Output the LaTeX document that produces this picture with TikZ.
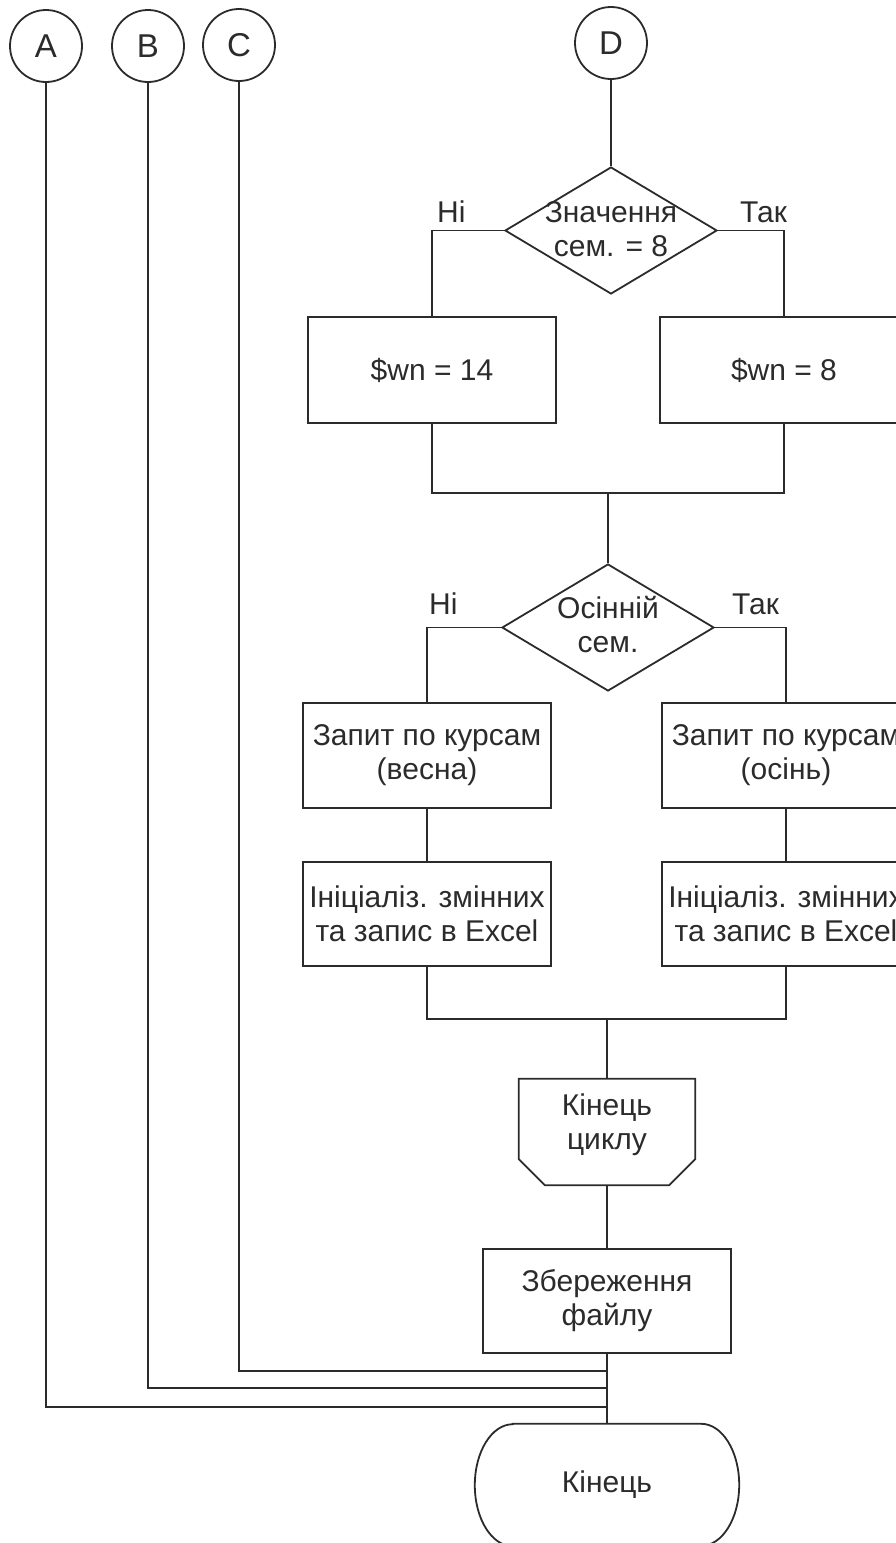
\documentclass[tikz,border=0pt]{standalone}
\usepackage{fontspec}
\setmainfont{Liberation Sans}
\usetikzlibrary{shapes.geometric}
\definecolor{ink}{HTML}{2B2B2B}

\begin{document}
\begin{tikzpicture}[x=1pt,y=-1pt,
  every node/.style={font=\fontsize{30}{34}\selectfont, text=ink},
  line/.style={draw=ink, line width=1.8pt},
  conn/.style={circle, draw=ink, line width=1.8pt, minimum size=72pt, inner sep=0pt,
               font=\fontsize{33}{36}\selectfont},
  proc/.style={rectangle, draw=ink, line width=1.8pt, minimum width=248pt,
               minimum height=106pt, inner sep=0pt, align=center},
  decision/.style={diamond, draw=ink, line width=1.8pt, minimum width=212pt,
               minimum height=127pt, inner sep=0pt},
  lbl/.style={anchor=base west, inner sep=0pt},
  frame/.style={rectangle, inner sep=0pt, align=center},
]
\useasboundingbox (0,0) rectangle (896,1543);

% off-page connectors
\node[conn] (A) at (46,46) {A};
\node[conn] (B) at (148,46) {B};
\node[conn] (C) at (239,45) {C};
\node[conn] (D) at (611,43) {D};

% first decision
\node[decision] (q1) at (611,230.5) {};
\node[align=center] (q1t) at (611,229) {Значення\\сем. = 8};
\node[lbl] (n1) at (437,222) {Ні};
\node[lbl] (y1) at (740,222) {Так};

\node[proc] (w14) at (432,370) {\$wn = 14};
\node[proc] (w8) at (784,370) {\$wn = 8};

% second decision
\node[decision] (q2) at (608,627.5) {};
\node[align=center] (q2t) at (608,625) {Осінній\\сем.};
\node[lbl] (n2) at (429,614) {Ні};
\node[lbl] (y2) at (732,614) {Так};

\node[proc, minimum height=105pt] (spr) at (427,755.5) {Запит по курсам\\(весна)};
\node[proc, minimum height=105pt] (aut) at (786,755.5) {Запит по курсам\\(осінь)};
\node[proc, minimum height=104pt] (ini1) at (427,914) {Ініціаліз. змінних\\та запис в Excel};
\node[proc, minimum height=104pt] (ini2) at (786,914) {Ініціаліз. змінних\\та запис в Excel};

% loop end, saving, terminator
\node[frame, minimum width=176pt, minimum height=106pt] (le) at (607,1132) {};
\node[align=center] (let) at (607,1125) {Кінець\\циклу};
\node[proc, minimum height=104pt] (save) at (607,1301) {Збереження\\файлу};
\node[frame, minimum width=264pt, minimum height=122pt] (stop) at (607,1485) {Кінець};

\draw[line] (le.north west) -- (le.north east) -- ([yshift=26pt]le.south east)
  -- ([xshift=-26pt]le.south east) -- ([xshift=26pt]le.south west)
  -- ([yshift=26pt]le.south west) -- cycle;
\draw[line] ([xshift=38pt]stop.north west) -- ([xshift=-38pt]stop.north east)
  arc[start angle=90, end angle=-90, x radius=38pt, y radius=61pt]
  -- ([xshift=38pt]stop.south west)
  arc[start angle=270, end angle=90, x radius=38pt, y radius=61pt] -- cycle;

% junctions
\coordinate (m1) at (608,493);
\coordinate (m2) at (607,1019);
\coordinate (jC) at (607,1371);
\coordinate (jB) at (607,1388);
\coordinate (jA) at (607,1407);

% connectors
\draw[line] (D.south) -- (q1.north);
\draw[line] (q1.west) -| (w14.north);
\draw[line] (q1.east) -| (w8.north);
\draw[line] (w14.south) |- (m1) -| (w8.south);
\draw[line] (m1) -- (q2.north);
\draw[line] (q2.west) -| (spr.north);
\draw[line] (q2.east) -| (aut.north);
\draw[line] (spr.south) -- (ini1.north);
\draw[line] (aut.south) -- (ini2.north);
\draw[line] (ini1.south) |- (m2) -| (ini2.south);
\draw[line] (m2) -- (le.north);
\draw[line] (le.south) -- (save.north);
\draw[line] (save.south) -- (stop.north);
\draw[line] (C.south) |- (jC);
\draw[line] (B.south) |- (jB);
\draw[line] (A.south) |- (jA);
\end{tikzpicture}
\end{document}
